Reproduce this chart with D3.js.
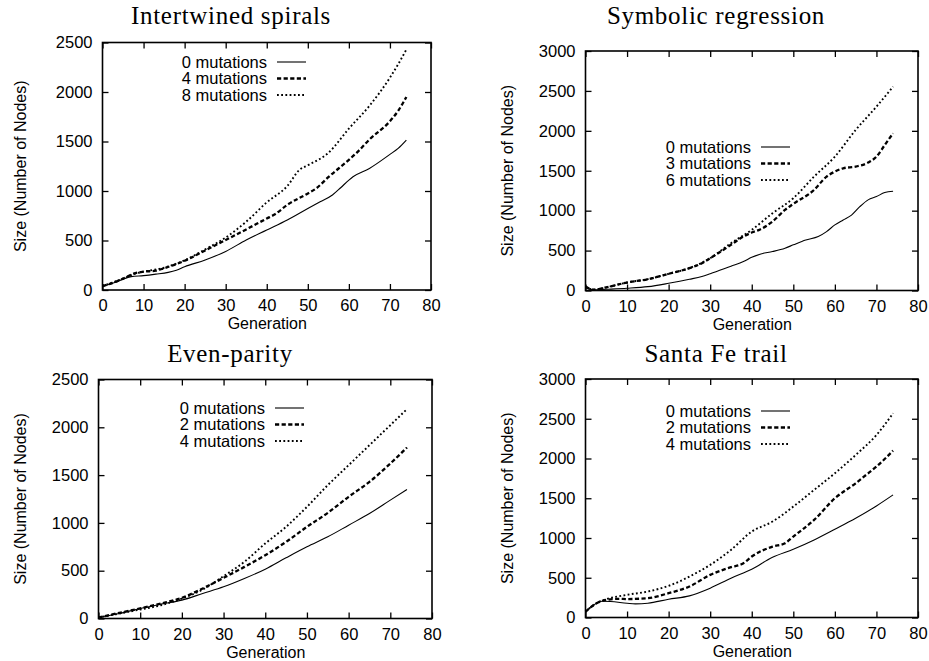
<!DOCTYPE html>
<html>
<head>
<meta charset="utf-8">
<script src="https://cdn.jsdelivr.net/npm/d3@7"></script>
<style>
  html, body { margin: 0; padding: 0; background: #fff; }
  svg { display: block; }
  .tick text { font-family: "Liberation Sans", Arial, sans-serif; font-size: 16.5px; fill: #000; }
  .tick line { stroke: #000; stroke-width: 1.3; }
</style>
</head>
<body>
<svg id="chart" width="929" height="661"></svg>
<script>
// Generation ticks and size ticks shared by every panel
const genTicks = [0, 10, 20, 30, 40, 50, 60, 70, 80];
const sizeTicks2500 = [0, 500, 1000, 1500, 2000, 2500];
const sizeTicks3000 = [0, 500, 1000, 1500, 2000, 2500, 3000];

// Panel titles and legend labels
const titles = ["Intertwined spirals", "Symbolic regression", "Even-parity", "Santa Fe trail"];
const spiralsLabels = ["0 mutations", "4 mutations", "8 mutations"];
const symbolicLabels = ["0 mutations", "3 mutations", "6 mutations"];
const parityLabels = ["0 mutations", "2 mutations", "4 mutations"];
const santaFeLabels = ["0 mutations", "2 mutations", "4 mutations"];

// [generation, mean tree size] per series
const spirals0 = [[0,35],[3,75],[5,110],[7,135],[10,145],[13,160],[16,178],[18,200],[20,235],[25,303],[30,390],[35,505],[40,606],[45,707],[50,824],[53,892],[56,960],[58,1033],[60,1110],[61,1144],[65,1228],[70,1370],[72,1430],[74,1514]];
const spirals4 = [[0,40],[3,80],[5,115],[8,170],[10,185],[13,195],[15,220],[20,295],[25,400],[30,505],[35,612],[40,722],[42,765],[45,860],[50,975],[52,1025],[55,1140],[60,1315],[62,1390],[65,1520],[70,1705],[72,1810],[74,1950]];
const spirals8 = [[0,40],[5,115],[8,165],[10,185],[15,225],[20,300],[25,410],[30,530],[35,690],[40,885],[45,1050],[48,1215],[50,1260],[55,1385],[60,1630],[65,1860],[70,2145],[72,2280],[74,2430]];

const symbolic0 = [[0,35],[2,8],[5,15],[10,28],[15,48],[20,90],[25,140],[28,175],[30,210],[35,305],[38,362],[40,415],[42,455],[45,488],[48,530],[50,572],[53,632],[56,676],[58,738],[60,822],[62,884],[64,945],[66,1050],[68,1135],[70,1176],[72,1227],[74,1243]];
const symbolic3 = [[0,50],[2,10],[5,40],[10,100],[15,142],[20,209],[25,280],[28,342],[30,405],[35,572],[38,676],[40,726],[42,765],[45,864],[48,1010],[50,1085],[55,1260],[58,1427],[60,1489],[62,1531],[65,1552],[68,1602],[70,1677],[72,1823],[74,1969]];
const symbolic6 = [[0,50],[2,10],[5,40],[10,100],[15,142],[20,209],[25,280],[30,405],[35,592],[40,760],[45,968],[50,1156],[55,1427],[60,1677],[65,2011],[70,2303],[74,2553]];

const parity0 = [[0,10],[5,52],[10,105],[15,150],[20,192],[25,262],[30,331],[35,418],[40,516],[45,635],[50,750],[55,854],[60,976],[65,1098],[70,1238],[74,1349]];
const parity2 = [[0,10],[5,59],[10,105],[15,157],[20,216],[25,314],[30,425],[35,540],[40,662],[45,802],[50,959],[55,1105],[60,1273],[65,1430],[70,1621],[74,1789]];
const parity4 = [[0,10],[5,52],[10,94],[15,139],[20,209],[25,303],[30,443],[35,593],[40,785],[45,959],[50,1168],[55,1395],[60,1604],[65,1813],[70,2022],[74,2190]];

const santaFe0 = [[0,75],[2,159],[3,189],[4,205],[6,201],[10,180],[12,172],[15,180],[20,230],[25,272],[30,369],[35,494],[40,607],[45,758],[50,859],[55,976],[60,1110],[65,1248],[70,1403],[74,1542]];
const santaFe2 = [[0,75],[3,189],[5,222],[8,235],[10,232],[15,243],[20,306],[25,390],[30,536],[35,633],[38,683],[40,767],[45,892],[48,934],[50,1018],[55,1227],[60,1500],[65,1688],[68,1814],[70,1898],[74,2099]];
const santaFe4 = [[0,75],[3,189],[5,230],[10,285],[15,327],[20,398],[25,515],[30,662],[35,850],[40,1081],[45,1207],[50,1395],[55,1605],[60,1814],[65,2044],[70,2296],[74,2568]];

// Line styles: thin solid, heavy dashes, bold dots
const lineStyles = [
  { width: 1.1, dash: null },
  { width: 2.3, dash: "4.2,2.4" },
  { width: 1.9, dash: "1.8,2.4" }
];

// Panel layout: plot frame, title placement and legend anchor
const panels = [
  { title: titles[0], series: [spirals0, spirals4, spirals8], labels: spiralsLabels, yMax: 2500, yTicks: sizeTicks2500,
    left: 102.5, right: 431, top: 42.5, bottom: 290, titleX: 231, titleY: 24, yLabelX: 20, legX: 267, legY: 62 },
  { title: titles[1], series: [symbolic0, symbolic3, symbolic6], labels: symbolicLabels, yMax: 3000, yTicks: sizeTicks3000,
    left: 585.5, right: 918, top: 51, bottom: 290.5, titleX: 716, titleY: 24, yLabelX: 507, legX: 751, legY: 147 },
  { title: titles[2], series: [parity0, parity2, parity4], labels: parityLabels, yMax: 2500, yTicks: sizeTicks2500,
    left: 98.5, right: 432, top: 379.5, bottom: 618.5, titleX: 230, titleY: 362, yLabelX: 20, legX: 265, legY: 408 },
  { title: titles[3], series: [santaFe0, santaFe2, santaFe4], labels: santaFeLabels, yMax: 3000, yTicks: sizeTicks3000,
    left: 585.5, right: 918, top: 379, bottom: 617.5, titleX: 716, titleY: 362, yLabelX: 507, legX: 751, legY: 411 }
];

const svg = d3.select("#chart");
const tickLen = 6;
const intFmt = d3.format("d");

panels.forEach(p => {
  const x = d3.scaleLinear().domain([0, 80]).range([p.left, p.right]);
  const y = d3.scaleLinear().domain([0, p.yMax]).range([p.bottom, p.top]);
  const g = svg.append("g");

  // Title
  g.append("text")
    .attr("x", p.titleX).attr("y", p.titleY)
    .attr("text-anchor", "middle")
    .style("font-family", "'Liberation Serif', 'Times New Roman', serif")
    .style("font-size", "25px")
    .style("letter-spacing", "0.7px")
    .text(p.title);

  // Axes with inward ticks on all four sides
  const bottomAxis = d3.axisBottom(x).tickValues(genTicks).tickFormat(intFmt).tickSize(-tickLen).tickPadding(9.5);
  const leftAxis = d3.axisLeft(y).tickValues(p.yTicks).tickFormat(intFmt).tickSize(-tickLen).tickPadding(10);
  const topAxis = d3.axisTop(x).tickValues(genTicks).tickSize(-tickLen).tickFormat("");
  const rightAxis = d3.axisRight(y).tickValues(p.yTicks).tickSize(-tickLen).tickFormat("");

  [[bottomAxis, 0, p.bottom], [leftAxis, p.left, 0], [topAxis, 0, p.top], [rightAxis, p.right, 0]].forEach(([ax, tx, ty]) => {
    const a = g.append("g").attr("transform", `translate(${tx},${ty})`).call(ax);
    a.select(".domain").remove();
    a.selectAll(".tick text").attr("font-family", null).attr("font-size", null);
  });

  // Frame
  g.append("rect")
    .attr("x", p.left).attr("y", p.top)
    .attr("width", p.right - p.left).attr("height", p.bottom - p.top)
    .attr("fill", "none").attr("stroke", "#000").attr("stroke-width", 1.6);

  // Axis titles
  g.append("text")
    .attr("x", (p.left + p.right) / 2 + 0.5).attr("y", p.bottom + 39)
    .attr("text-anchor", "middle")
    .style("font-family", "'Liberation Sans', Arial, sans-serif")
    .style("font-size", "16px")
    .text("Generation");
  g.append("text")
    .attr("transform", `translate(${p.yLabelX},${(p.top + p.bottom) / 2}) rotate(-90)`)
    .attr("text-anchor", "middle")
    .attr("dy", "0.35em")
    .style("font-family", "'Liberation Sans', Arial, sans-serif")
    .style("font-size", "16px")
    .text("Size (Number of Nodes)");

  // Series lines
  const line = d3.line().x(d => x(d[0])).y(d => y(d[1])).curve(d3.curveMonotoneX);
  p.series.forEach((s, i) => {
    const st = lineStyles[i];
    g.append("path")
      .datum(s)
      .attr("d", line)
      .attr("fill", "none")
      .attr("stroke", "#000")
      .attr("stroke-width", st.width)
      .attr("stroke-dasharray", st.dash);
  });

  // Legend
  p.labels.forEach((lab, i) => {
    const ly = p.legY + i * 16.5;
    const st = lineStyles[i];
    g.append("text")
      .attr("x", p.legX).attr("y", ly)
      .attr("dy", "0.35em")
      .attr("text-anchor", "end")
      .style("font-family", "'Liberation Sans', Arial, sans-serif")
      .style("font-size", "16.5px")
      .text(lab);
    g.append("line")
      .attr("x1", p.legX + 10).attr("x2", p.legX + 39)
      .attr("y1", ly).attr("y2", ly)
      .attr("stroke", "#000")
      .attr("stroke-width", st.width)
      .attr("stroke-dasharray", st.dash);
  });
});
</script>
</body>
</html>
